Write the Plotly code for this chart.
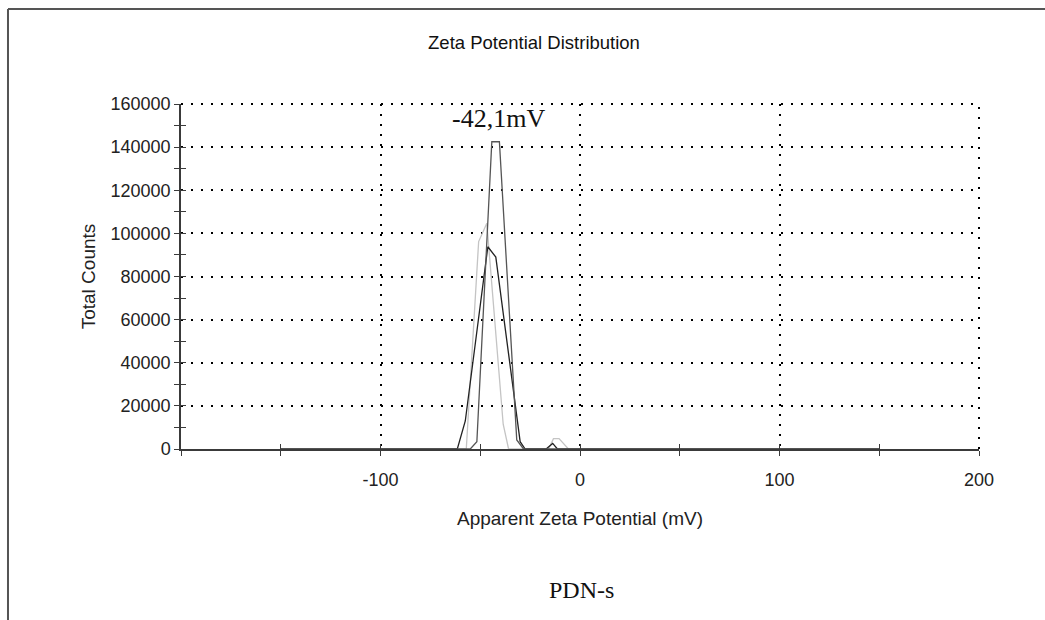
import plotly.graph_objects as go

# --- data ---
# Apparent zeta potential (mV) and total counts for three runs
run1_mv = [-150, -55.0, -51.7, -44.2, -40.4, -31.7, -28.3, 150]
run1_counts = [0, 0, 3400, 142500, 142500, 4200, 0, 0]

run2_mv = [-150, -61.5, -57.5, -46.2, -42.2, -30.0, -27.5, -17.0, -13.7, -11.3, 150]
run2_counts = [0, 0, 13000, 93800, 89000, 3400, 0, 0, 2600, 0, 0]

run3_mv = [-150, -57.0, -50.8, -46.7, -38.5, -35.8, -15.8, -13.3, -10.5, -5.8, 150]
run3_counts = [0, 0, 96200, 104700, 11500, 0, 0, 4800, 4800, 0, 0]

x_tickvals = [-100, 0, 100, 200]
x_ticktext = ["-100", "0", "100", "200"]
y_tickvals = [0, 20000, 40000, 60000, 80000, 100000, 120000, 140000, 160000]
y_ticktext = [str(v) for v in y_tickvals]

peak_label = "-42,1mV"
peak_value = -42.1
caption = "PDN-s"

fig = go.Figure()
fig.add_trace(go.Scatter(x=run3_mv, y=run3_counts, mode="lines",
                         line=dict(color="#c4c4c4", width=1.3), showlegend=False))
fig.add_trace(go.Scatter(x=run2_mv, y=run2_counts, mode="lines",
                         line=dict(color="#222222", width=1.3), showlegend=False))
fig.add_trace(go.Scatter(x=run1_mv, y=run1_counts, mode="lines",
                         line=dict(color="#555555", width=1.3), showlegend=False))
# empty trace that carries the inner-tick overlay axes
fig.add_trace(go.Scatter(x=[None], y=[None], xaxis="x2", yaxis="y2",
                         mode="lines", showlegend=False, hoverinfo="skip"))

sans = "Liberation Sans, Arial, sans-serif"
serif = "Liberation Serif, Times New Roman, serif"
axcol = "#3a3a3a"
grid_dash = "2px,8px"

fig.update_layout(
    width=1045, height=620,
    margin=dict(l=181, r=66, t=104, b=171),
    paper_bgcolor="white", plot_bgcolor="white",
    title=dict(text="Zeta Potential Distribution", x=0.511, xanchor="center",
               y=0.932, yanchor="middle",
               font=dict(family=sans, size=18.5, color="#111")),
    xaxis=dict(range=[-200, 200], tickvals=x_tickvals, ticktext=x_ticktext,
               ticks="outside", ticklen=5, tickcolor=axcol, tickwidth=1.2,
               ticklabelstandoff=9,
               minor=dict(dtick=50, tick0=0, ticks="outside", ticklen=5,
                          tickcolor=axcol, tickwidth=1.2, showgrid=False),
               showline=True, linecolor=axcol, linewidth=1.5,
               showgrid=True, gridcolor="black", gridwidth=2, griddash=grid_dash,
               zeroline=False,
               tickfont=dict(family=sans, size=18, color="#222"),
               title=dict(text="Apparent Zeta Potential (mV)", standoff=22,
                          font=dict(family=sans, size=19, color="#222"))),
    yaxis=dict(range=[0, 160000], tickvals=y_tickvals, ticktext=y_ticktext,
               ticks="outside", ticklen=5, tickcolor=axcol, tickwidth=1.2,
               minor=dict(dtick=10000, tick0=0, ticks="outside", ticklen=5,
                          tickcolor=axcol, tickwidth=1.2, showgrid=False),
               showline=True, linecolor=axcol, linewidth=1.5,
               showgrid=True, gridcolor="black", gridwidth=2, griddash=grid_dash,
               zeroline=False,
               tickfont=dict(family=sans, size=18, color="#222"),
               title=dict(text="Total Counts", standoff=10,
                          font=dict(family=sans, size=19, color="#222"))),
    xaxis2=dict(range=[-200, 200], overlaying="x", anchor="y", side="bottom",
                dtick=50, tick0=0, ticks="inside", ticklen=5, tickcolor=axcol,
                tickwidth=1.2, showticklabels=False, showgrid=False,
                showline=False, zeroline=False),
    yaxis2=dict(range=[0, 160000], overlaying="y", anchor="x", side="left",
                dtick=10000, tick0=0, ticks="inside", ticklen=5, tickcolor=axcol,
                tickwidth=1.2, showticklabels=False, showgrid=False,
                showline=False, zeroline=False),
    annotations=[
        dict(x=peak_value, y=1.0, xref="x", yref="paper", text=peak_label,
             showarrow=False, xanchor="center", yanchor="bottom", yshift=-31, xshift=2,
             font=dict(family=serif, size=26, color="#111")),
        dict(x=0.502, y=-0.41, xref="paper", yref="paper", text=caption,
             showarrow=False, xanchor="center", yanchor="middle",
             font=dict(family=serif, size=24, color="#111")),
    ],
    shapes=[
        # page frame
        dict(type="line", xref="paper", yref="paper", x0=-0.2168, x1=1.1, y0=1.2754, y1=1.2754,
             line=dict(color="#555", width=2)),
        dict(type="line", xref="paper", yref="paper", x0=-0.2168, x1=-0.2168, y0=1.2754, y1=-0.5,
             line=dict(color="#555", width=2)),
        # dotted grid on the top and right edges of the plot area
        dict(type="line", xref="paper", yref="paper", x0=0, x1=1, y0=1, y1=1,
             line=dict(color="black", width=2, dash=grid_dash)),
        dict(type="line", xref="paper", yref="paper", x0=1, x1=1, y0=0, y1=1,
             line=dict(color="black", width=2, dash=grid_dash)),
    ],
)

fig.write_html("out.html")
